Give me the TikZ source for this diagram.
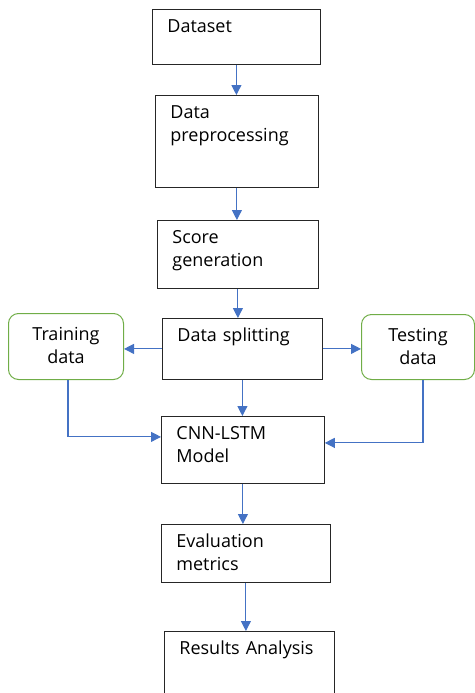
\documentclass[tikz,border=0pt]{standalone}
\usepackage{fontspec}
\setmainfont{Open Sans}
\usepackage{tikz}
\usetikzlibrary{arrows.meta}

\definecolor{flowblue}{HTML}{4472C4}
\definecolor{flowgreen}{HTML}{70AD47}

\begin{document}
\begin{tikzpicture}[x=1pt,y=-1pt,
    font=\fontsize{18}{23}\selectfont,
    stage/.style={draw=black!85, line width=0.8pt, anchor=north west,
        align=left, inner xsep=15pt, inner ysep=0pt, text height=23pt},
    datapart/.style={draw=flowgreen, line width=1pt, rounded corners=10pt,
        anchor=north west, align=center, inner sep=0pt, text height=27pt},
    flow/.style={draw=flowblue, line width=1.1pt, ->},
    >={Triangle[length=10pt,width=10pt]}]

\useasboundingbox (0,0) rectangle (474,693);

% main pipeline, top to bottom
\node[stage, text width=138pt, text depth=32pt] (dataset) at (152,9) {Dataset};
\node[stage, text width=133pt, text depth=69pt] (preproc) at (155,95) {Data\\preprocessing};
\node[stage, text width=131pt, text depth=45pt] (score) at (157,220) {Score\\generation};
\node[stage, text width=130pt, text depth=38pt] (split) at (162,318) {Data splitting};
\node[stage, text width=133pt, text depth=44pt] (cnn) at (161,416) {CNN-LSTM\\Model};
\node[stage, text width=139pt, text depth=35pt] (eval) at (161,524) {Evaluation\\metrics};
\node[stage, text width=140pt, text depth=47pt] (results) at (164,631) {Results Analysis};

% the two halves of the split
\node[datapart, text width=115pt, text depth=39pt] (train) at (8,313) {Training\\data};
\node[datapart, text width=113pt, text depth=38pt] (test) at (361,314) {Testing\\data};

\draw[flow] (dataset.south) -- (dataset.south |- preproc.north);
\draw[flow] (preproc.south) -- (preproc.south |- score.north);
\draw[flow] (score.south) -- (score.south |- split.north);
\draw[flow] (split.west) -- (split.west -| train.east);
\draw[flow] (split.east) -- (split.east -| test.west);
\draw[flow] (split.south) -- (split.south |- cnn.north);
\draw[flow] ([xshift=2pt]train.south) |- ([yshift=13pt]cnn.west);
\draw[flow] ([xshift=5pt]test.south) |- ([yshift=7pt]cnn.east);
\draw[flow] (cnn.south) -- (cnn.south |- eval.north);
\draw[flow] (eval.south) -- (eval.south |- results.north);
\end{tikzpicture}
\end{document}
